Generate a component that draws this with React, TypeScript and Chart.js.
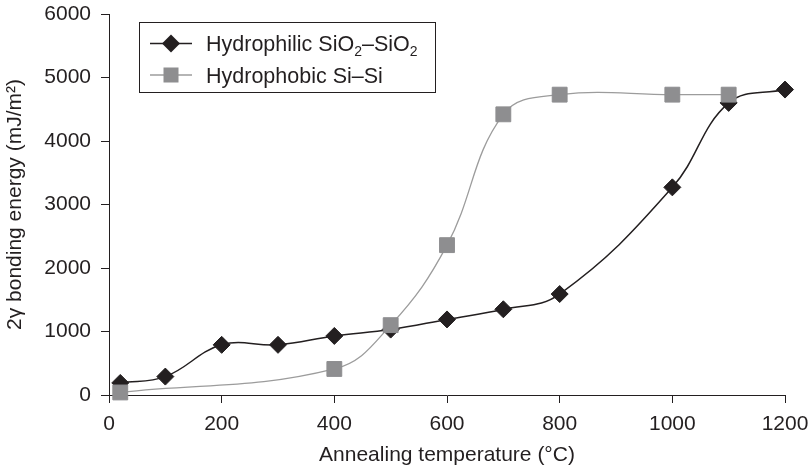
import React, { useEffect, useRef } from 'react';
import { Chart, registerables } from 'chart.js';

Chart.register(...registerables);

// ---- data ----
const hydrophilicTemps = [20, 100, 200, 300, 400, 500, 600, 700, 800, 1000, 1100, 1200];
const hydrophilicEnergy = [190, 290, 790, 790, 930, 1030, 1190, 1350, 1590, 3270, 4600, 4810];
const hydrophobicTemps = [20, 400, 500, 600, 700, 800, 1000, 1100];
const hydrophobicEnergy = [40, 410, 1100, 2360, 4420, 4730, 4730, 4730];
const xTickValues = [0, 200, 400, 600, 800, 1000, 1200];
const yTickValues = [0, 1000, 2000, 3000, 4000, 5000, 6000];
const xTitle = 'Annealing temperature (°C)';
const yTitle = '2γ bonding energy (mJ/m²)';
const legendHydrophilic = [
  { t: 'Hydrophilic SiO' },
  { t: '2', sub: true },
  { t: '–SiO' },
  { t: '2', sub: true },
];
const legendHydrophobic = [{ t: 'Hydrophobic Si–Si' }];

const INK = '#231f20';
const GRAY_MARK = '#8e8e90';
const GRAY_LINE = '#9c9c9c';
const FONT = '"Liberation Sans", Arial, Helvetica, sans-serif';

function drawDiamond(ctx: CanvasRenderingContext2D, x: number, y: number, r: number) {
  ctx.beginPath();
  ctx.moveTo(x - r, y);
  ctx.lineTo(x, y - r);
  ctx.lineTo(x + r, y);
  ctx.lineTo(x, y + r);
  ctx.closePath();
  ctx.fillStyle = INK;
  ctx.fill();
}

function drawSquare(ctx: CanvasRenderingContext2D, x: number, y: number, h: number) {
  ctx.fillStyle = GRAY_MARK;
  ctx.fillRect(x - h, y - h, 2 * h, 2 * h);
}

function drawRich(ctx: CanvasRenderingContext2D, segs: { t: string; sub?: boolean }[], x: number, y: number) {
  let cx = x;
  ctx.textBaseline = 'alphabetic';
  ctx.textAlign = 'left';
  ctx.fillStyle = INK;
  for (const s of segs) {
    ctx.font = s.sub ? `14px ${FONT}` : `21.5px ${FONT}`;
    ctx.fillText(s.t, cx, s.sub ? y + 5 : y);
    cx += ctx.measureText(s.t).width;
  }
}

const legendPlugin = {
  id: 'customLegend',
  afterDraw(chart: any) {
    const ctx: CanvasRenderingContext2D = chart.ctx;
    ctx.save();
    ctx.strokeStyle = INK;
    ctx.lineWidth = 1;
    ctx.strokeRect(139.5, 22.5, 296, 70);
    const r1 = 43.5;
    ctx.strokeStyle = INK;
    ctx.lineWidth = 1.5;
    ctx.beginPath();
    ctx.moveTo(150, r1);
    ctx.lineTo(192, r1);
    ctx.stroke();
    drawDiamond(ctx, 171, r1, 9);
    drawRich(ctx, legendHydrophilic, 206, r1 + 7.5);
    const r2 = 75;
    ctx.strokeStyle = GRAY_LINE;
    ctx.lineWidth = 1.3;
    ctx.beginPath();
    ctx.moveTo(150, r2);
    ctx.lineTo(192, r2);
    ctx.stroke();
    drawSquare(ctx, 171, r2, 7.5);
    drawRich(ctx, legendHydrophobic, 206, r2 + 7.5);
    ctx.restore();
  },
};

function zeroPad(s: any) {
  s.paddingTop = 0;
  s.paddingBottom = 0;
  s.paddingLeft = 0;
  s.paddingRight = 0;
}

export default function App() {
  const ref = useRef<HTMLCanvasElement>(null);
  useEffect(() => {
    if (!ref.current) return;
    const chart = new Chart(ref.current, {
      type: 'line',
      data: {
        datasets: [
          {
            label: 'Hydrophilic SiO2–SiO2',
            data: hydrophilicTemps.map((x, i) => ({ x, y: hydrophilicEnergy[i] })),
            borderColor: INK,
            borderWidth: 1.5,
            backgroundColor: INK,
            pointStyle: 'rectRot',
            pointRadius: 8.5,
            pointBorderWidth: 1,
            pointBorderColor: INK,
            pointBackgroundColor: INK,
            tension: 0.4,
            clip: false,
            order: 1,
          },
          {
            label: 'Hydrophobic Si–Si',
            data: hydrophobicTemps.map((x, i) => ({ x, y: hydrophobicEnergy[i] })),
            borderColor: GRAY_LINE,
            borderWidth: 1.3,
            backgroundColor: GRAY_MARK,
            pointStyle: 'rect',
            pointRadius: 10.5,
            pointBorderWidth: 1,
            pointBorderColor: GRAY_MARK,
            pointBackgroundColor: GRAY_MARK,
            tension: 0.4,
            clip: false,
            order: 0,
          },
        ],
      },
      options: {
        responsive: false,
        animation: false,
        layout: { padding: { top: 14, right: 26, left: 0, bottom: 0 } },
        plugins: { legend: { display: false }, tooltip: { enabled: false } },
        scales: {
          x: {
            type: 'linear',
            min: 0,
            max: 1200,
            afterBuildTicks: (s: any) => {
              s.ticks = xTickValues.map((v) => ({ value: v }));
            },
            afterFit: (s: any) => {
              s.height = 76;
              zeroPad(s);
            },
            grid: { display: true, drawOnChartArea: false, drawTicks: true, tickLength: 8, color: INK, lineWidth: 1 },
            border: { display: true, color: INK, width: 1 },
            ticks: {
              color: INK,
              font: { family: FONT, size: 21 },
              padding: 9,
              maxRotation: 0,
              autoSkip: false,
              callback: (v: any) => String(v),
            },
            title: { display: true, text: xTitle, color: INK, font: { family: FONT, size: 21 }, padding: { top: 0, bottom: 3 } },
          },
          y: {
            type: 'linear',
            min: 0,
            max: 6000,
            afterBuildTicks: (s: any) => {
              s.ticks = yTickValues.map((v) => ({ value: v }));
            },
            afterFit: (s: any) => {
              s.width = 109;
              zeroPad(s);
            },
            grid: { display: true, drawOnChartArea: false, drawTicks: true, tickLength: 8, color: INK, lineWidth: 1 },
            border: { display: true, color: INK, width: 1 },
            ticks: {
              color: INK,
              font: { family: FONT, size: 21 },
              padding: 10,
              autoSkip: false,
              callback: (v: any) => String(v),
            },
            title: { display: true, text: yTitle, color: INK, font: { family: FONT, size: 21 }, padding: { top: 3, bottom: 0 } },
          },
        },
      },
      plugins: [legendPlugin],
    } as any);
    return () => chart.destroy();
  }, []);
  return (
    <div style={{ position: 'fixed', left: 0, top: 0, width: 811, height: 471, background: '#fff' }}>
      <canvas ref={ref} width={811} height={471} style={{ display: 'block' }} />
    </div>
  );
}
